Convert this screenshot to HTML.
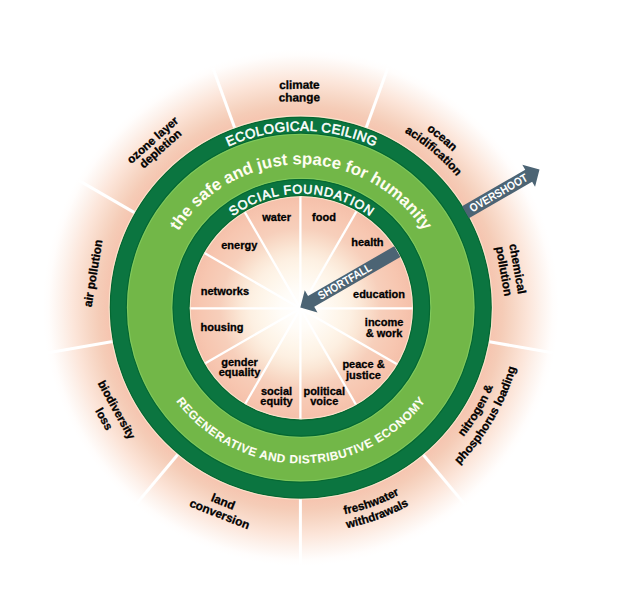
<!DOCTYPE html>
<html><head><meta charset="utf-8"><style>
html,body{margin:0;padding:0;background:#fff;width:618px;height:607px;overflow:hidden;}
svg{display:block;}
</style></head><body>
<svg width="618" height="607" viewBox="0 0 618 607"><defs>
<radialGradient id="og" gradientUnits="userSpaceOnUse" cx="300.75" cy="307.6" r="258">
  <stop offset="0.735" stop-color="rgb(246,195,174)"/>
  <stop offset="0.783" stop-color="rgb(245,204,183)"/>
  <stop offset="0.822" stop-color="rgb(247,214,196)"/>
  <stop offset="0.88" stop-color="rgb(252,229,217)"/>
  <stop offset="0.93" stop-color="rgb(253,242,236)"/>
  <stop offset="0.977" stop-color="rgb(255,253,252)"/>
  <stop offset="1" stop-color="#ffffff"/>
</radialGradient>
<radialGradient id="ig" gradientUnits="userSpaceOnUse" cx="300.4" cy="308.4" r="111.7">
  <stop offset="0" stop-color="#ffffff"/>
  <stop offset="0.18" stop-color="rgb(255,252,247)"/>
  <stop offset="0.36" stop-color="rgb(254,245,233)"/>
  <stop offset="0.45" stop-color="rgb(253,240,226)"/>
  <stop offset="0.54" stop-color="rgb(251,231,214)"/>
  <stop offset="0.63" stop-color="rgb(249,219,200)"/>
  <stop offset="0.72" stop-color="rgb(247,207,187)"/>
  <stop offset="0.9" stop-color="rgb(247,198,176)"/>
  <stop offset="1" stop-color="rgb(245,192,170)"/>
</radialGradient>
<path id="ecoArc" d="M 124.65 307.60 A 176.9 176.9 0 0 1 478.45 307.60"/>
<path id="safeArc" d="M 154.75 310.60 A 146.2 146.2 0 0 1 447.15 310.60"/>
<path id="socArc" d="M 187.05 307.80 A 114.3 114.3 0 0 1 415.65 307.80"/>
<path id="regArc" d="M 144.85 307.60 A 155.9 155.9 0 0 0 456.65 307.60"/>
</defs>
<rect width="618" height="607" fill="#fff"/>
<circle cx="300.75" cy="307.6" r="260" fill="url(#og)"/>
<line x1="365.08" y1="130.70" x2="387.96" y2="67.84" stroke="#fff" stroke-width="3"/>
<line x1="464.17" y1="213.85" x2="522.10" y2="180.40" stroke="#fff" stroke-width="3"/>
<line x1="486.63" y1="341.24" x2="552.51" y2="352.85" stroke="#fff" stroke-width="3"/>
<line x1="421.95" y1="453.26" x2="464.95" y2="504.51" stroke="#fff" stroke-width="3"/>
<line x1="300.40" y1="497.50" x2="300.40" y2="564.40" stroke="#fff" stroke-width="3"/>
<line x1="178.85" y1="453.26" x2="135.85" y2="504.51" stroke="#fff" stroke-width="3"/>
<line x1="114.17" y1="341.24" x2="48.29" y2="352.85" stroke="#fff" stroke-width="3"/>
<line x1="136.63" y1="213.85" x2="78.70" y2="180.40" stroke="#fff" stroke-width="3"/>
<line x1="235.72" y1="130.70" x2="212.84" y2="67.84" stroke="#fff" stroke-width="3"/>
<circle cx="300.75" cy="307.6" r="191.1" fill="#0b7540"/>
<circle cx="300.75" cy="307.6" r="173.9" fill="#72b748"/>
<circle cx="301.35" cy="307.8" r="128.9" fill="#0b7540"/>
<circle cx="301.35" cy="307.8" r="111.7" fill="url(#ig)"/>
<line x1="300.4" y1="308.4" x2="300.40" y2="193.70" stroke="#fff" stroke-width="2.3"/>
<line x1="300.4" y1="308.4" x2="357.75" y2="209.07" stroke="#fff" stroke-width="2.3"/>
<line x1="300.4" y1="308.4" x2="399.73" y2="251.05" stroke="#fff" stroke-width="2.3"/>
<line x1="300.4" y1="308.4" x2="415.10" y2="308.40" stroke="#fff" stroke-width="2.3"/>
<line x1="300.4" y1="308.4" x2="399.73" y2="365.75" stroke="#fff" stroke-width="2.3"/>
<line x1="300.4" y1="308.4" x2="357.75" y2="407.73" stroke="#fff" stroke-width="2.3"/>
<line x1="300.4" y1="308.4" x2="300.40" y2="423.10" stroke="#fff" stroke-width="2.3"/>
<line x1="300.4" y1="308.4" x2="243.05" y2="407.73" stroke="#fff" stroke-width="2.3"/>
<line x1="300.4" y1="308.4" x2="201.07" y2="365.75" stroke="#fff" stroke-width="2.3"/>
<line x1="300.4" y1="308.4" x2="185.70" y2="308.40" stroke="#fff" stroke-width="2.3"/>
<line x1="300.4" y1="308.4" x2="201.07" y2="251.05" stroke="#fff" stroke-width="2.3"/>
<line x1="300.4" y1="308.4" x2="243.05" y2="209.07" stroke="#fff" stroke-width="2.3"/>
<circle cx="301.35" cy="307.8" r="120.30000000000001" fill="none" stroke="#0b7540" stroke-width="17.200000000000003"/>
<circle cx="300.75" cy="307.6" r="190.50" fill="none" stroke="rgb(0,92,38)" stroke-opacity="0.55" stroke-width="1.1"/>
<circle cx="300.75" cy="307.6" r="191.70" fill="none" stroke="rgb(251,238,214)" stroke-opacity="0.75" stroke-width="1.1"/>
<circle cx="300.75" cy="307.6" r="174.50" fill="none" stroke="rgb(0,92,38)" stroke-opacity="0.55" stroke-width="1.1"/>
<circle cx="300.75" cy="307.6" r="173.30" fill="none" stroke="rgb(138,214,106)" stroke-opacity="0.6" stroke-width="1.1"/>
<circle cx="301.35" cy="307.8" r="128.30" fill="none" stroke="rgb(0,92,38)" stroke-opacity="0.55" stroke-width="1.1"/>
<circle cx="301.35" cy="307.8" r="129.50" fill="none" stroke="rgb(138,214,106)" stroke-opacity="0.6" stroke-width="1.1"/>
<circle cx="301.35" cy="307.8" r="112.30" fill="none" stroke="rgb(0,92,38)" stroke-opacity="0.55" stroke-width="1.1"/>
<circle cx="301.35" cy="307.8" r="111.10" fill="none" stroke="rgb(251,238,214)" stroke-opacity="0.75" stroke-width="1.1"/>
<text font-family='"Liberation Sans", sans-serif' font-size="13.4" fill="#fff" stroke="#fff" stroke-width="0.55"><textPath href="#ecoArc" startOffset="50%" text-anchor="middle" textLength="151" lengthAdjust="spacing">ECOLOGICAL CEILING</textPath></text>
<text font-family='"Liberation Sans", sans-serif' font-size="16.8" font-weight="bold" fill="#fffdf0"><textPath href="#safeArc" startOffset="50%" text-anchor="middle">the safe and just space for humanity</textPath></text>
<text font-family='"Liberation Sans", sans-serif' font-size="12.7" fill="#fff" stroke="#fff" stroke-width="0.55"><textPath href="#socArc" startOffset="50%" text-anchor="middle" textLength="147" lengthAdjust="spacing">SOCIAL FOUNDATION</textPath></text>
<text font-family='"Liberation Sans", sans-serif' font-size="11.8" font-weight="bold" fill="#fffef5" stroke="#fffef5" stroke-width="0.1"><textPath href="#regArc" startOffset="50%" text-anchor="middle" textLength="289" lengthAdjust="spacing">REGENERATIVE AND DISTRIBUTIVE ECONOMY</textPath></text>
<text font-family='"Liberation Sans", sans-serif' font-weight="bold" fill="#000" stroke="#000" stroke-width="0.3" text-anchor="middle" font-size="11"><tspan x="276.6" y="220.7">water</tspan></text>
<text font-family='"Liberation Sans", sans-serif' font-weight="bold" fill="#000" stroke="#000" stroke-width="0.3" text-anchor="middle" font-size="11"><tspan x="324.0" y="220.5">food</tspan></text>
<text font-family='"Liberation Sans", sans-serif' font-weight="bold" fill="#000" stroke="#000" stroke-width="0.3" text-anchor="middle" font-size="11"><tspan x="367.4" y="245.8">health</tspan></text>
<text font-family='"Liberation Sans", sans-serif' font-weight="bold" fill="#000" stroke="#000" stroke-width="0.3" text-anchor="middle" font-size="11"><tspan x="239.3" y="248.5">energy</tspan></text>
<text font-family='"Liberation Sans", sans-serif' font-weight="bold" fill="#000" stroke="#000" stroke-width="0.3" text-anchor="middle" font-size="11"><tspan x="224.9" y="294.9">networks</tspan></text>
<text font-family='"Liberation Sans", sans-serif' font-weight="bold" fill="#000" stroke="#000" stroke-width="0.3" text-anchor="middle" font-size="11"><tspan x="379.0" y="297.5">education</tspan></text>
<text font-family='"Liberation Sans", sans-serif' font-weight="bold" fill="#000" stroke="#000" stroke-width="0.3" text-anchor="middle" font-size="11"><tspan x="222.0" y="331.0">housing</tspan></text>
<text font-family='"Liberation Sans", sans-serif' font-weight="bold" fill="#000" stroke="#000" stroke-width="0.3" text-anchor="middle" font-size="11"><tspan x="384.1" y="326.4">income</tspan><tspan x="384.1" y="336.6">&amp; work</tspan></text>
<text font-family='"Liberation Sans", sans-serif' font-weight="bold" fill="#000" stroke="#000" stroke-width="0.3" text-anchor="middle" font-size="11"><tspan x="239.5" y="365.8">gender</tspan><tspan x="239.5" y="376.0">equality</tspan></text>
<text font-family='"Liberation Sans", sans-serif' font-weight="bold" fill="#000" stroke="#000" stroke-width="0.3" text-anchor="middle" font-size="11"><tspan x="363.5" y="368.3">peace &amp;</tspan><tspan x="363.5" y="378.5">justice</tspan></text>
<text font-family='"Liberation Sans", sans-serif' font-weight="bold" fill="#000" stroke="#000" stroke-width="0.3" text-anchor="middle" font-size="11"><tspan x="276.5" y="394.9">social</tspan><tspan x="276.5" y="405.1">equity</tspan></text>
<text font-family='"Liberation Sans", sans-serif' font-weight="bold" fill="#000" stroke="#000" stroke-width="0.3" text-anchor="middle" font-size="11"><tspan x="324.2" y="395.2">political</tspan><tspan x="324.2" y="405.4">voice</tspan></text>
<text font-family='"Liberation Sans", sans-serif' font-weight="bold" fill="#000" stroke="#000" stroke-width="0.3" text-anchor="middle" font-size="11.75" transform="translate(299.40 88.81) rotate(-0.393)" x="0" y="0">climate</text>
<text font-family='"Liberation Sans", sans-serif' font-weight="bold" fill="#000" stroke="#000" stroke-width="0.3" text-anchor="middle" font-size="11.75" transform="translate(299.40 101.41) rotate(-0.417)" x="0" y="0">change</text>
<text font-family='"Liberation Sans", sans-serif' font-weight="bold" fill="#000" stroke="#000" stroke-width="0.3" text-anchor="middle" font-size="11.8"><textPath href="#L1_0" startOffset="50%">ocean</textPath></text>
<text font-family='"Liberation Sans", sans-serif' font-weight="bold" fill="#000" stroke="#000" stroke-width="0.3" text-anchor="middle" font-size="11.8"><textPath href="#L1_1" startOffset="50%">acidification</textPath></text>
<text font-family='"Liberation Sans", sans-serif' font-weight="bold" fill="#000" stroke="#000" stroke-width="0.3" text-anchor="middle" font-size="11.9" transform="translate(513.69 269.47) rotate(79.814)" x="0" y="0">chemical</text>
<text font-family='"Liberation Sans", sans-serif' font-weight="bold" fill="#000" stroke="#000" stroke-width="0.3" text-anchor="middle" font-size="11.9" transform="translate(500.10 271.86) rotate(79.802)" x="0" y="0">pollution</text>
<text font-family='"Liberation Sans", sans-serif' font-weight="bold" fill="#000" stroke="#000" stroke-width="0.3" text-anchor="middle" font-size="11.8"><textPath href="#L3_0" startOffset="50%">nitrogen &amp;</textPath></text>
<text font-family='"Liberation Sans", sans-serif' font-weight="bold" fill="#000" stroke="#000" stroke-width="0.3" text-anchor="middle" font-size="11.8"><textPath href="#L3_1" startOffset="50%">phosphorus loading</textPath></text>
<text font-family='"Liberation Sans", sans-serif' font-weight="bold" fill="#000" stroke="#000" stroke-width="0.3" text-anchor="middle" font-size="11.6"><textPath href="#L4_0" startOffset="50%">freshwater</textPath></text>
<text font-family='"Liberation Sans", sans-serif' font-weight="bold" fill="#000" stroke="#000" stroke-width="0.3" text-anchor="middle" font-size="11.6"><textPath href="#L4_1" startOffset="50%">withdrawals</textPath></text>
<text font-family='"Liberation Sans", sans-serif' font-weight="bold" fill="#000" stroke="#000" stroke-width="0.3" text-anchor="middle" font-size="11.9" transform="translate(221.61 505.39) rotate(21.856)" x="0" y="0">land</text>
<text font-family='"Liberation Sans", sans-serif' font-weight="bold" fill="#000" stroke="#000" stroke-width="0.3" text-anchor="middle" font-size="11.9" transform="translate(218.15 517.79) rotate(21.497)" x="0" y="0">conversion</text>
<text font-family='"Liberation Sans", sans-serif' font-weight="bold" fill="#000" stroke="#000" stroke-width="0.3" text-anchor="middle" font-size="11.6" transform="translate(113.20 411.62) rotate(61.028)" x="0" y="0">biodiversity</text>
<text font-family='"Liberation Sans", sans-serif' font-weight="bold" fill="#000" stroke="#000" stroke-width="0.3" text-anchor="middle" font-size="11.6" transform="translate(100.65 420.95) rotate(60.511)" x="0" y="0">loss</text>
<text font-family='"Liberation Sans", sans-serif' font-weight="bold" fill="#000" stroke="#000" stroke-width="0.3" text-anchor="middle" font-size="11.9" transform="translate(96.99 273.88) rotate(279.418)" x="0" y="0">air pollution</text>
<text font-family='"Liberation Sans", sans-serif' font-weight="bold" fill="#000" stroke="#000" stroke-width="0.3" text-anchor="middle" font-size="11.65" transform="translate(155.23 142.97) rotate(318.515)" x="0" y="0">ozone layer</text>
<text font-family='"Liberation Sans", sans-serif' font-weight="bold" fill="#000" stroke="#000" stroke-width="0.3" text-anchor="middle" font-size="11.65" transform="translate(163.06 151.67) rotate(318.541)" x="0" y="0">depletion</text>
<defs><path id="L1_0" d="M 133.57 168.60 A 217.60 217.60 0 0 1 440.00 140.37 A 217.60 217.60 0 0 1 468.23 446.80"/><path id="L1_1" d="M 145.37 176.15 A 203.70 203.70 0 0 1 432.45 152.17 A 203.70 203.70 0 0 1 456.43 439.25"/><path id="L3_0" d="M 195.79 486.96 A 207.80 207.80 0 0 0 480.16 412.81 A 207.80 207.80 0 0 0 406.01 128.44"/><path id="L3_1" d="M 188.88 500.52 A 223.00 223.00 0 0 0 493.72 419.72 A 223.00 223.00 0 0 0 412.92 114.88"/><path id="L4_0" d="M 102.30 379.56 A 211.20 211.20 0 0 0 372.76 506.30 A 211.20 211.20 0 0 0 499.50 235.84"/><path id="L4_1" d="M 89.63 385.66 A 225.20 225.20 0 0 0 378.86 518.97 A 225.20 225.20 0 0 0 512.17 229.74"/></defs>
<g transform="rotate(-30 300.3 307.6)">
<polygon points="491.00,300.70 564.00,300.70 564.00,294.85 576.50,307.60 564.00,320.35 564.00,314.50 491.00,314.50" fill="#4c6474"/>
<text x="529.3" y="311.3" font-family='"Liberation Sans", sans-serif' font-size="11.5" font-weight="bold" fill="#fff" text-anchor="middle" textLength="65" lengthAdjust="spacingAndGlyphs">OVERSHOOT</text>
<polygon points="412.30,301.40 312.80,301.40 312.80,294.85 300.30,307.60 312.80,320.35 312.80,313.80 412.30,313.80" fill="#4c6474"/>
<text x="351.8" y="311.1" font-family='"Liberation Sans", sans-serif' font-size="11.5" font-weight="bold" fill="#fff" text-anchor="middle" textLength="60" lengthAdjust="spacingAndGlyphs">SHORTFALL</text>
</g></svg>
</body></html>
